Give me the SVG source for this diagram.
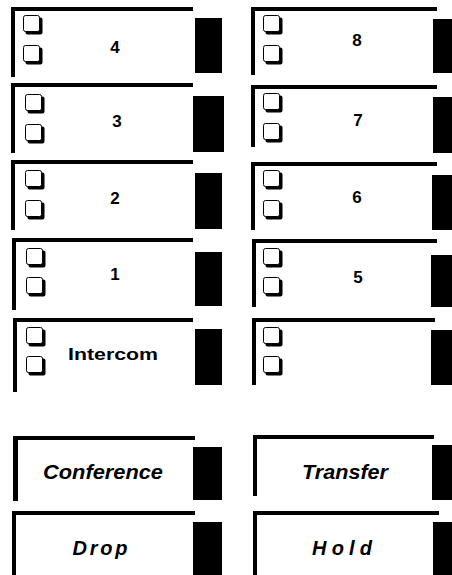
<svg xmlns="http://www.w3.org/2000/svg" xmlns:xlink="http://www.w3.org/1999/xlink" width="452" height="575" viewBox="0 0 452 575">
<style>
.bar{fill:#000}
.key{fill:#000}
.lbl{font-family:"Liberation Sans",Arial,sans-serif;font-weight:bold;font-size:17px;fill:#000;text-anchor:middle}
.big{font-size:20px}
.it{font-style:italic}
</style>
<defs>
<g id="cb">
<rect x="2.5" y="2.5" width="17" height="17" rx="2" fill="#000"/>
<rect x="0.5" y="0.5" width="16" height="16" rx="2" fill="#fff" stroke="#000" stroke-width="1"/>
</g>
</defs>
<rect width="452" height="575" fill="#fff"/>

<g id="btn-4">
<rect class="bar" x="11" y="7" width="182" height="4"/><rect class="bar" x="11" y="7" width="4" height="70"/>
<rect class="key" x="195" y="18" width="27" height="55"/>
<use xlink:href="#cb" x="23" y="15"/><use xlink:href="#cb" x="23" y="45"/>
<text class="lbl" x="115" y="53">4</text>
</g>
<g id="btn-3">
<rect class="bar" x="11" y="83" width="182" height="4"/><rect class="bar" x="11" y="83" width="4" height="70"/>
<rect class="key" x="193" y="96" width="31" height="56"/>
<use xlink:href="#cb" x="25" y="94"/><use xlink:href="#cb" x="25" y="124"/>
<text class="lbl" x="117" y="127">3</text>
</g>
<g id="btn-2">
<rect class="bar" x="11" y="160" width="182" height="4"/><rect class="bar" x="11" y="160" width="4" height="70"/>
<rect class="key" x="195" y="173" width="27" height="56"/>
<use xlink:href="#cb" x="25" y="170"/><use xlink:href="#cb" x="25" y="200"/>
<text class="lbl" x="115" y="204">2</text>
</g>
<g id="btn-1">
<rect class="bar" x="12" y="238" width="181" height="4"/><rect class="bar" x="12" y="238" width="4" height="72"/>
<rect class="key" x="195" y="252" width="27" height="54"/>
<use xlink:href="#cb" x="26" y="248"/><use xlink:href="#cb" x="26" y="277"/>
<text class="lbl" x="115" y="280">1</text>
</g>
<g id="btn-intercom">
<rect class="bar" x="13" y="318" width="180" height="4"/><rect class="bar" x="13" y="318" width="4" height="74"/>
<rect class="key" x="195" y="329" width="27" height="56"/>
<use xlink:href="#cb" x="26" y="327"/><use xlink:href="#cb" x="26" y="356"/>
<text class="lbl" x="113" y="360" font-size="19" textLength="90" lengthAdjust="spacingAndGlyphs">Intercom</text>
</g>

<g id="btn-8">
<rect class="bar" x="251" y="7" width="186" height="4"/><rect class="bar" x="251" y="7" width="4" height="68"/>
<rect class="key" x="433" y="19" width="19" height="54"/>
<use xlink:href="#cb" x="263" y="15"/><use xlink:href="#cb" x="263" y="45"/>
<text class="lbl" x="357" y="46">8</text>
</g>
<g id="btn-7">
<rect class="bar" x="251" y="85" width="186" height="4"/><rect class="bar" x="251" y="85" width="4" height="62"/>
<rect class="key" x="433" y="97" width="19" height="56"/>
<use xlink:href="#cb" x="263" y="93"/><use xlink:href="#cb" x="263" y="123"/>
<text class="lbl" x="358" y="126">7</text>
</g>
<g id="btn-6">
<rect class="bar" x="251" y="162" width="186" height="4"/><rect class="bar" x="251" y="162" width="4" height="68"/>
<rect class="key" x="432" y="175" width="20" height="55"/>
<use xlink:href="#cb" x="263" y="170"/><use xlink:href="#cb" x="263" y="200"/>
<text class="lbl" x="357" y="203">6</text>
</g>
<g id="btn-5">
<rect class="bar" x="252" y="239" width="185" height="4"/><rect class="bar" x="252" y="239" width="4" height="68"/>
<rect class="key" x="431" y="255" width="21" height="52"/>
<use xlink:href="#cb" x="263" y="248"/><use xlink:href="#cb" x="263" y="277"/>
<text class="lbl" x="358" y="283">5</text>
</g>
<g id="btn-blank">
<rect class="bar" x="252" y="318" width="183" height="4"/><rect class="bar" x="252" y="318" width="4" height="67"/>
<rect class="key" x="431" y="330" width="21" height="55"/>
<use xlink:href="#cb" x="263" y="327"/><use xlink:href="#cb" x="263" y="356"/>
</g>

<g id="btn-conference">
<rect class="bar" x="13" y="436" width="182" height="4"/><rect class="bar" x="13" y="436" width="5" height="65"/>
<rect class="key" x="193" y="447" width="29" height="53"/>
<text class="lbl big it" x="103" y="479" textLength="120" lengthAdjust="spacingAndGlyphs">Conference</text>
</g>
<g id="btn-drop">
<rect class="bar" x="12" y="511" width="183" height="4"/><rect class="bar" x="12" y="511" width="4" height="64"/>
<rect class="key" x="193" y="522" width="29" height="53"/>
<text class="lbl big it" x="100" y="555" textLength="55" lengthAdjust="spacing">Drop</text>
</g>
<g id="btn-transfer">
<rect class="bar" x="253" y="435" width="181" height="4"/><rect class="bar" x="253" y="435" width="4" height="61"/>
<rect class="key" x="432" y="445" width="20" height="55"/>
<text class="lbl big it" x="345" y="479" textLength="86" lengthAdjust="spacingAndGlyphs">Transfer</text>
</g>
<g id="btn-hold">
<rect class="bar" x="253" y="511" width="186" height="4"/><rect class="bar" x="253" y="511" width="4" height="64"/>
<rect class="key" x="433" y="522" width="19" height="53"/>
<text class="lbl big it" x="342" y="555" textLength="60" lengthAdjust="spacing">Hold</text>
</g>
<g id="connectors"/>
</svg>
